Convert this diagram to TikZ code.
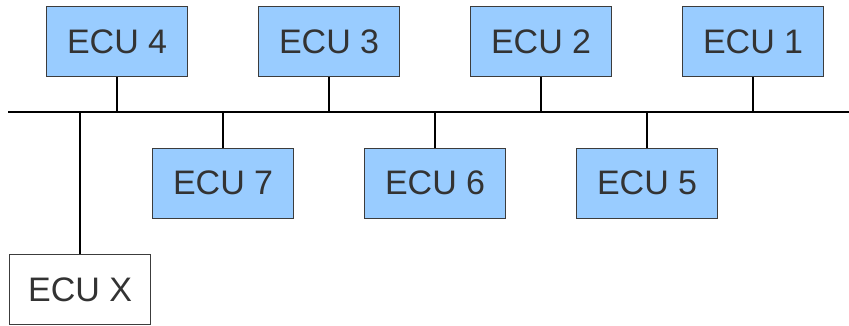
\documentclass[tikz,border=0pt]{standalone}
\usepackage{fontspec}
\setmainfont{Liberation Sans}
\definecolor{ecufill}{HTML}{99CCFF}
\definecolor{ecuedge}{HTML}{3C3C3C}
\definecolor{ecutext}{HTML}{333333}
\begin{document}
\begin{tikzpicture}[x=1pt,y=-1pt,
  ecu/.style={draw=ecuedge,line width=1.2pt,fill=ecufill,minimum width=141pt,minimum height=70pt,
    inner sep=0pt,text=ecutext,font=\fontsize{34}{37}\selectfont,anchor=north west},
  ecuplain/.style={ecu,fill=white},
  wire/.style={line width=2.6pt,black}]
\useasboundingbox (0,0) rectangle (849,325);
% bus
\coordinate (busL) at (8,112);
\coordinate (busR) at (849,112);
\draw[wire] (busL) -- (busR);
% upper row
\node[ecu] (e4) at (46,6) {ECU 4};
\node[ecu] (e3) at (258,6) {ECU 3};
\node[ecu] (e2) at (470,6) {ECU 2};
\node[ecu] (e1) at (682,6) {ECU 1};
% lower row
\node[ecu] (e7) at (152,147.5) {ECU 7};
\node[ecu] (e6) at (364,147.5) {ECU 6};
\node[ecu] (e5) at (576,147.5) {ECU 5};
\node[ecuplain] (ex) at (9,254) {ECU X};
% stubs to bus
\foreach \n in {e4,e3,e2,e1}{
  \draw[wire] (\n.south) -- (\n.south |- busL);
}
\foreach \n in {e7,e6,e5,ex}{
  \draw[wire] (\n.north) -- (\n.north |- busL);
}
\end{tikzpicture}
\end{document}
